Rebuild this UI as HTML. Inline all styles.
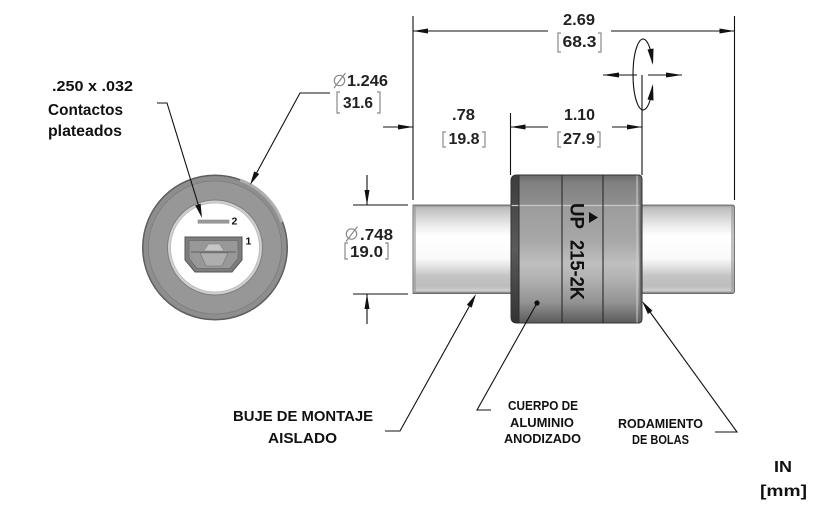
<!DOCTYPE html>
<html><head><meta charset="utf-8"><style>
html,body{margin:0;padding:0;background:#fff;}
svg{display:block;}
text{font-family:"Liberation Sans",Arial,sans-serif;}
</style></head><body>
<svg width="822" height="506" viewBox="0 0 822 506" xmlns="http://www.w3.org/2000/svg">
<defs>
<linearGradient id="shaft" x1="0" y1="205" x2="0" y2="293.5" gradientUnits="userSpaceOnUse">
<stop offset="0" stop-color="#8a8a8a"/>
<stop offset="0.03" stop-color="#bdbdbd"/>
<stop offset="0.12" stop-color="#d2d2d2"/>
<stop offset="0.25" stop-color="#efefef"/>
<stop offset="0.35" stop-color="#ffffff"/>
<stop offset="0.6" stop-color="#fafafa"/>
<stop offset="0.7" stop-color="#e2e2e2"/>
<stop offset="0.8" stop-color="#c4c4c4"/>
<stop offset="0.92" stop-color="#bdbdbd"/>
<stop offset="0.97" stop-color="#cfcfcf"/>
<stop offset="1" stop-color="#6a6a6a"/>
</linearGradient>
<linearGradient id="body" x1="0" y1="175" x2="0" y2="323" gradientUnits="userSpaceOnUse">
<stop offset="0" stop-color="#6a6a6a"/>
<stop offset="0.05" stop-color="#808080"/>
<stop offset="0.19" stop-color="#8e8e8e"/>
<stop offset="0.22" stop-color="#9c9c9c"/>
<stop offset="0.45" stop-color="#a8a8a8"/>
<stop offset="0.6" stop-color="#bfbfbf"/>
<stop offset="0.7" stop-color="#b2b2b2"/>
<stop offset="0.86" stop-color="#939393"/>
<stop offset="1" stop-color="#5a5a5a"/>
</linearGradient>
<linearGradient id="bodyL" x1="0" y1="175" x2="0" y2="323" gradientUnits="userSpaceOnUse">
<stop offset="0" stop-color="#3c3c3c"/>
<stop offset="0.5" stop-color="#5a5a5a"/>
<stop offset="1" stop-color="#333"/>
</linearGradient>
<clipPath id="bodyclip"><path d="M517,175 L638,175 Q642,175 642,179 L642,319 Q642,323 638,323 L517,323 Q511,323 511,317 L511,181 Q511,175 517,175 Z"/></clipPath>
</defs>

<!-- ===== End view ===== -->
<circle cx="215" cy="247.5" r="73" fill="#5e5e5e"/>
<circle cx="215" cy="247.5" r="71.5" fill="#8e8e8e"/>
<circle cx="215" cy="247.5" r="66.5" fill="#979797" stroke="#7c7c7c" stroke-width="0.8"/>
<path d="M240,180 A70,70 0 0 1 282,222" fill="none" stroke="#aeaeae" stroke-width="3"/>
<circle cx="215" cy="247.5" r="48" fill="#7e7e7e"/>
<circle cx="215" cy="247.5" r="47" fill="#cfcfcf"/>
<circle cx="215" cy="247.5" r="44.5" fill="#ffffff" stroke="#b8b8b8" stroke-width="0.8"/>
<!-- contact 2 -->
<rect x="198" y="220" width="31" height="3.2" fill="#9a9a9a" stroke="#7a7a7a" stroke-width="0.5"/>
<text x="231.5" y="224.5" font-size="10.5" font-weight="bold" fill="#111">2</text>
<!-- contact 1 -->
<path d="M185,237 L242,237 L242,260 L232,272 L195,272 L185,260 Z" fill="#7e7e7e" stroke="#555" stroke-width="1"/>
<path d="M189,240.5 L238,240.5 L238,258.5 L230,268.5 L197,268.5 L189,258.5 Z" fill="#989898" stroke="#6a6a6a" stroke-width="0.8"/>
<path d="M204,251 L208.5,244 L219.5,244 L224,251 Z" fill="#c6c6c6" stroke="#808080" stroke-width="0.5"/>
<line x1="191" y1="252" x2="236" y2="252" stroke="#5e5e5e" stroke-width="1"/>
<path d="M200,253 L228,253 L222,266 L206,266 Z" fill="#aeaeae" stroke="#707070" stroke-width="0.6"/>
<text x="245.5" y="244.5" font-size="10.5" font-weight="bold" fill="#111">1</text>

<!-- leaders for end view -->
<g stroke="#111" stroke-width="1.1" fill="none">
<polyline points="157,103 167,103 199,207"/>
<polyline points="330,93 300,93 256,174"/>
</g>
<polygon points="202,218 195.2,205.4 200.6,203.8" fill="#111"/>
<polygon points="250,185 254.2,171.4 259.2,174.0" fill="#111"/>

<!-- top-left label -->
<g font-weight="bold" fill="#111">
<text x="52" y="91" font-size="15" textLength="81" lengthAdjust="spacingAndGlyphs">.250 x .032</text>
<text x="48" y="115" font-size="15.5" textLength="75" lengthAdjust="spacingAndGlyphs">Contactos</text>
<text x="48" y="136" font-size="15.5" textLength="74" lengthAdjust="spacingAndGlyphs">plateados</text>
</g>

<!-- Ø1.246 -->
<g stroke="#8a8a8a" stroke-width="1.2" fill="none">
<circle cx="339.5" cy="80.5" r="5.2"/>
<line x1="334" y1="88" x2="345.5" y2="73"/>
<path d="M340,92 H337 V113 H340"/>
<path d="M377,92 H380 V113 H377"/>
</g>
<g font-weight="bold" fill="#222" font-size="16">
<text x="347" y="86" textLength="41" lengthAdjust="spacingAndGlyphs">1.246</text>
<text x="343" y="108" textLength="30" lengthAdjust="spacingAndGlyphs">31.6</text>
</g>

<!-- ===== Side view ===== -->
<g stroke="#111" stroke-width="1.1" fill="none">
<line x1="413" y1="16" x2="413" y2="200"/>
<line x1="734.5" y1="16" x2="734.5" y2="200"/>
<line x1="510.5" y1="113" x2="510.5" y2="175"/>
<line x1="642" y1="75" x2="642" y2="175"/>
<line x1="413" y1="31" x2="548" y2="31"/>
<line x1="611" y1="31" x2="734.5" y2="31"/>
<line x1="383" y1="127" x2="413" y2="127"/>
<line x1="510.5" y1="127" x2="548" y2="127"/>
<line x1="612" y1="127" x2="642" y2="127"/>
<path d="M652.5,63 A10,35.5 0 1 0 652.5,86"/>
<line x1="603" y1="75" x2="637" y2="75"/>
<line x1="648" y1="75" x2="682" y2="75"/>
<line x1="353" y1="205" x2="408" y2="205"/>
<line x1="353" y1="294" x2="408" y2="294"/>
<line x1="367" y1="175" x2="367" y2="205"/>
<line x1="367" y1="294" x2="367" y2="324"/>
</g>
<g fill="#111">
<polygon points="413,31 428,28.5 428,33.5"/>
<polygon points="734.5,31 719.5,28.5 719.5,33.5"/>
<polygon points="413,127 398,124.5 398,129.5"/>
<polygon points="510.5,127 525.5,124.5 525.5,129.5"/>
<polygon points="642,127 627,124.5 627,129.5"/>
<polygon points="603,75 619,72.5 619,77.5"/>
<polygon points="682,75 666,72.5 666,77.5"/>
<polygon points="653,65 647.5,49.5 653.5,48.5"/>
<polygon points="653,84 647.5,99.5 653.5,100.5"/>
<polygon points="367,205 364.5,190 369.5,190"/>
<polygon points="367,294 364.5,309 369.5,309"/>
</g>

<!-- dimension texts -->
<g stroke="#8a8a8a" stroke-width="1.2" fill="none">
<path d="M561,33 H558 V52 H561"/>
<path d="M598,33 H601 V52 H598"/>
<path d="M446,132 H443 V147 H446"/>
<path d="M482,132 H485 V147 H482"/>
<path d="M561,132 H558 V147 H561"/>
<path d="M597,132 H600 V147 H597"/>
<path d="M348,243 H345 V259 H348"/>
<path d="M385,243 H388 V259 H385"/>
<circle cx="351.5" cy="234" r="5.2"/>
<line x1="346" y1="241.5" x2="357.5" y2="226.5"/>
</g>
<g font-weight="bold" fill="#222" font-size="16">
<text x="563" y="25" textLength="32" lengthAdjust="spacingAndGlyphs">2.69</text>
<text x="562.5" y="47" textLength="34" lengthAdjust="spacingAndGlyphs">68.3</text>
<text x="452" y="120" textLength="23" lengthAdjust="spacingAndGlyphs">.78</text>
<text x="448.5" y="144" textLength="31" lengthAdjust="spacingAndGlyphs">19.8</text>
<text x="564" y="120" textLength="31" lengthAdjust="spacingAndGlyphs">1.10</text>
<text x="563" y="144" textLength="32" lengthAdjust="spacingAndGlyphs">27.9</text>
<text x="360" y="240" textLength="33" lengthAdjust="spacingAndGlyphs">.748</text>
<text x="350" y="257" textLength="33" lengthAdjust="spacingAndGlyphs">19.0</text>
</g>

<!-- shafts -->
<rect x="413" y="205" width="100" height="88.5" fill="url(#shaft)" stroke="#555" stroke-width="0.8"/>
<rect x="413" y="205.5" width="3" height="87.5" fill="#9a9a9a" opacity="0.6"/>
<rect x="640" y="205" width="94.5" height="88.5" rx="2" fill="url(#shaft)" stroke="#555" stroke-width="0.8"/>
<rect x="731" y="206" width="3" height="87" fill="#9a9a9a" opacity="0.6"/>

<!-- body -->
<g clip-path="url(#bodyclip)">
<rect x="511" y="175" width="131" height="148" fill="url(#body)"/>
<rect x="511" y="175" width="8" height="148" fill="url(#bodyL)"/>
<line x1="511" y1="205.5" x2="642" y2="205.5" stroke="#c8c8c8" stroke-width="1.2"/>
<line x1="519" y1="175" x2="519" y2="323" stroke="#2e2e2e" stroke-width="1"/>
<line x1="637" y1="175" x2="637" y2="323" stroke="#cfcfcf" stroke-width="1"/>
<rect x="639.5" y="175" width="3" height="148" fill="#6a6a6a"/>
</g>
<path d="M517,175 L638,175 Q642,175 642,179 L642,319 Q642,323 638,323 L517,323 Q511,323 511,317 L511,181 Q511,175 517,175 Z" fill="none" stroke="#333" stroke-width="1"/>
<line x1="562" y1="175" x2="562" y2="323" stroke="#2a2a2a" stroke-width="1.1"/>
<line x1="603" y1="175" x2="603" y2="323" stroke="#2a2a2a" stroke-width="1.1"/>

<!-- body marking -->
<text transform="translate(570.5,203) rotate(90)" font-size="19" font-weight="bold" fill="#111" textLength="26" lengthAdjust="spacingAndGlyphs">UP</text>
<polygon points="598,217.5 589,212 589,223" fill="#111"/>
<text transform="translate(570.5,240) rotate(90)" font-size="19" font-weight="bold" fill="#111" textLength="60" lengthAdjust="spacingAndGlyphs">215-2K</text>

<!-- bottom leaders -->
<g stroke="#111" stroke-width="1.1" fill="none">
<polyline points="385,431 400,431 469.5,306"/>
<polyline points="491,410 477,410 537,303"/>
<polyline points="715,432 737,432 650,312"/>
</g>
<polygon points="476,294 471.7,307.6 466.8,304.9" fill="#111"/>
<circle cx="537" cy="303" r="2.6" fill="#111"/>
<polygon points="642,301 652.5,310.7 647.9,314.0" fill="#111"/>

<!-- bottom labels -->
<g font-weight="bold" fill="#111">
<text x="233" y="421" font-size="15" textLength="140" lengthAdjust="spacingAndGlyphs">BUJE DE MONTAJE</text>
<text x="268" y="443" font-size="15" textLength="69" lengthAdjust="spacingAndGlyphs">AISLADO</text>
<text x="508" y="410" font-size="12.5" textLength="70" lengthAdjust="spacingAndGlyphs">CUERPO DE</text>
<text x="510" y="427" font-size="12.5" textLength="64" lengthAdjust="spacingAndGlyphs">ALUMINIO</text>
<text x="504" y="443" font-size="12.5" textLength="77" lengthAdjust="spacingAndGlyphs">ANODIZADO</text>
<text x="618" y="428" font-size="12.5" textLength="85" lengthAdjust="spacingAndGlyphs">RODAMIENTO</text>
<text x="632" y="444" font-size="12.5" textLength="57" lengthAdjust="spacingAndGlyphs">DE BOLAS</text>
<text x="774" y="472" font-size="16" textLength="18" lengthAdjust="spacingAndGlyphs">IN</text>
<text x="760" y="496" font-size="16" textLength="47" lengthAdjust="spacingAndGlyphs">[mm]</text>
</g>
</svg>
</body></html>
